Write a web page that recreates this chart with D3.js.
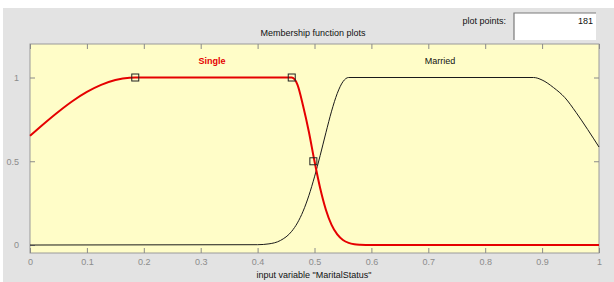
<!DOCTYPE html>
<html>
<head>
<meta charset="utf-8">
<script src="https://cdn.jsdelivr.net/npm/d3@7"></script>
<style>
  html, body { margin: 0; padding: 0; background: #ffffff; }
  svg { display: block; font-family: "Liberation Sans", Arial, sans-serif; }
</style>
</head>
<body>
<div id="chart"></div>
<script>
// Membership function plots for input "MaritalStatus"

// data
const singleX = [0, 0.025, 0.05, 0.075, 0.1, 0.125, 0.15, 0.175, 0.185, 0.46, 0.47, 0.48, 0.49, 0.5, 0.51, 0.52, 0.53, 0.54, 0.55, 0.56, 0.57, 0.58, 0.6, 1];
const singleY = [0.652, 0.726, 0.796, 0.86, 0.914, 0.956, 0.985, 0.999, 1, 1, 0.958, 0.83, 0.678, 0.5, 0.339, 0.211, 0.12, 0.063, 0.03, 0.013, 0.005, 0.002, 0, 0];
const marriedX = [0, 0.4, 0.42, 0.44, 0.46, 0.47, 0.48, 0.49, 0.5, 0.51, 0.52, 0.53, 0.54, 0.55, 0.56, 0.885, 0.9, 0.92, 0.94, 0.96, 0.98, 1];
const marriedY = [0, 0.002, 0.007, 0.027, 0.082, 0.132, 0.202, 0.294, 0.407, 0.535, 0.67, 0.799, 0.905, 0.975, 1, 1, 0.985, 0.94, 0.88, 0.79, 0.69, 0.585];
const singleMarks = [[0.185, 1], [0.46, 1], [0.498, 0.5]];
const xTicks = [0, 0.1, 0.2, 0.3, 0.4, 0.5, 0.6, 0.7, 0.8, 0.9, 1];
const yTicks = [0, 0.5, 1];

const width = 614;
const height = 282;
const plot = {left: 30, right: 599, top: 44, bottom: 253};

const svg = d3.select("#chart")
  .append("svg")
  .attr("width", width)
  .attr("height", height);

// grey figure panel
svg.append("rect")
  .attr("x", 3).attr("y", 8)
  .attr("width", width - 3).attr("height", height - 8)
  .attr("fill", "#e3e3e3");

// scales
const x = d3.scaleLinear().domain([0, 1]).range([plot.left, plot.right]);
const y = d3.scaleLinear().domain([-0.0476, 1.2]).range([plot.bottom, plot.top]);

// axes background
svg.append("rect")
  .attr("x", plot.left).attr("y", plot.top)
  .attr("width", plot.right - plot.left).attr("height", plot.bottom - plot.top)
  .attr("fill", "#fffdc8")
  .attr("stroke", "#9a9a9a")
  .attr("stroke-width", 1);

// ticks pointing inward
const tickLen = 5;
const tickColor = "#8a8a8a";
svg.append("g")
  .attr("transform", `translate(0,${plot.bottom})`)
  .call(d3.axisBottom(x).tickValues(xTicks).tickSize(-tickLen).tickPadding(6).tickFormat(d3.format("")))
  .call(g => g.select(".domain").remove())
  .call(g => g.selectAll("line").attr("stroke", tickColor))
  .call(g => g.selectAll("text").attr("fill", "#8c8c8c").attr("font-size", 9));

svg.append("g")
  .attr("transform", `translate(0,${plot.top})`)
  .call(d3.axisTop(x).tickValues(xTicks).tickSize(-tickLen).tickFormat(""))
  .call(g => g.select(".domain").remove())
  .call(g => g.selectAll("line").attr("stroke", tickColor));

svg.append("g")
  .attr("transform", `translate(${plot.left},0)`)
  .call(d3.axisLeft(y).tickValues(yTicks).tickSize(-tickLen).tickPadding(11).tickFormat(d3.format("")))
  .call(g => g.select(".domain").remove())
  .call(g => g.selectAll("line").attr("stroke", tickColor))
  .call(g => g.selectAll("text").attr("fill", "#8c8c8c").attr("font-size", 9));

svg.append("g")
  .attr("transform", `translate(${plot.right},0)`)
  .call(d3.axisRight(y).tickValues(yTicks).tickSize(-tickLen).tickFormat(""))
  .call(g => g.select(".domain").remove())
  .call(g => g.selectAll("line").attr("stroke", tickColor));

// curves
const line = d3.line()
  .x(d => x(d[0]))
  .y(d => y(d[1]))
  .curve(d3.curveMonotoneX);

svg.append("path")
  .datum(d3.zip(marriedX, marriedY))
  .attr("fill", "none")
  .attr("stroke", "#1a1a1a")
  .attr("stroke-width", 1)
  .attr("d", line);

svg.append("path")
  .datum(d3.zip(singleX, singleY))
  .attr("fill", "none")
  .attr("stroke", "#e50000")
  .attr("stroke-width", 2)
  .attr("d", line);

// vertex markers on the selected function
svg.selectAll(".mark")
  .data(singleMarks)
  .enter()
  .append("rect")
    .attr("class", "mark")
    .attr("x", d => x(d[0]) - 3.5)
    .attr("y", d => y(d[1]) - 3.5)
    .attr("width", 7)
    .attr("height", 7)
    .attr("fill", "none")
    .attr("stroke", "#222")
    .attr("stroke-width", 1);

// function names
svg.append("text")
  .attr("x", 212).attr("y", 64)
  .attr("text-anchor", "middle")
  .attr("font-size", 9).attr("font-weight", "bold")
  .attr("fill", "#e50000")
  .text("Single");

svg.append("text")
  .attr("x", 440).attr("y", 64)
  .attr("text-anchor", "middle")
  .attr("font-size", 9)
  .attr("fill", "#111")
  .text("Married");

// titles
svg.append("text")
  .attr("x", 313).attr("y", 36)
  .attr("text-anchor", "middle")
  .attr("font-size", 9)
  .attr("fill", "#111")
  .text("Membership function plots");

svg.append("text")
  .attr("x", 314).attr("y", 278)
  .attr("text-anchor", "middle")
  .attr("font-size", 9)
  .attr("fill", "#111")
  .text("input variable \"MaritalStatus\"");

// plot points box
svg.append("text")
  .attr("x", 506).attr("y", 24)
  .attr("text-anchor", "end")
  .attr("font-size", 9)
  .attr("fill", "#111")
  .text("plot points:");

svg.append("rect")
  .attr("x", 514).attr("y", 13)
  .attr("width", 82).attr("height", 27)
  .attr("fill", "#ffffff");
svg.append("path")
  .attr("d", "M514,40 V13 H596")
  .attr("fill", "none")
  .attr("stroke", "#7a7a7a")
  .attr("stroke-width", 1.2);

svg.append("text")
  .attr("x", 593).attr("y", 24)
  .attr("text-anchor", "end")
  .attr("font-size", 9)
  .attr("fill", "#111")
  .text("181");
</script>
</body>
</html>
